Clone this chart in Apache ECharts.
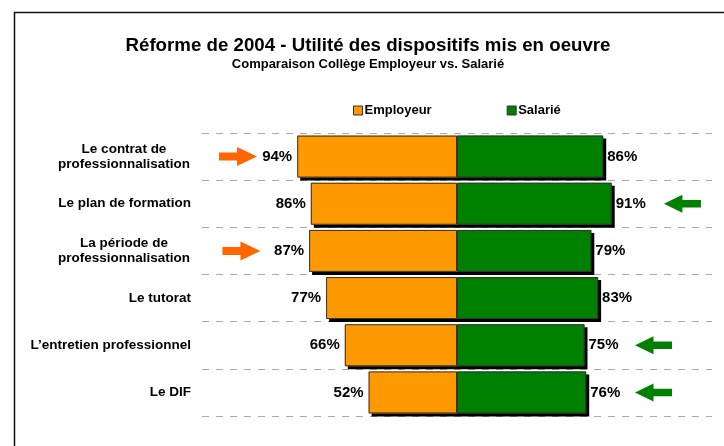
<!DOCTYPE html>
<html>
<head>
<meta charset="utf-8">
<script src="https://cdn.jsdelivr.net/npm/echarts@6/dist/echarts.min.js"></script>
<style>html,body{margin:0;padding:0;background:#fff;}#c{width:724px;height:446px;}</style>
</head>
<body>
<div id="c"></div>
<script>
var categories = ['Le contrat de\nprofessionnalisation', 'Le plan de formation', 'La période de\nprofessionnalisation', 'Le tutorat', 'L\u2019entretien professionnel', 'Le DIF'];
var employeur = [94, 86, 87, 77, 66, 52];
var salarie = [86, 91, 79, 83, 75, 76];
// annotation arrows: [x value on the scale, category index]
var arrowsEmployeur = [[-128.8, 0], [-126.8, 2]];
var arrowsSalarie = [[132.6, 1], [115.6, 4], [115.6, 5]];

var FONT = '"Liberation Sans", Arial, sans-serif';
var chart = echarts.init(document.getElementById('c'), null, {renderer: 'canvas'});
var fillStyle = function (c) {
  return {color: c, borderWidth: 0, shadowColor: '#000', shadowBlur: 0, shadowOffsetX: 3, shadowOffsetY: 3};
};
var outlineStyle = {color: 'rgba(0,0,0,0)', borderColor: '#333', borderWidth: 1};
var valLabel = function (pos) {
  return {show: true, position: pos, distance: pos === 'left' ? 5 : 4, fontFamily: FONT, fontSize: 15, fontWeight: 'bold', color: '#000',
    formatter: function (p) { return Math.abs(p.value) + '%'; }};
};
var negEmp = employeur.map(function (v) { return -v; });
var rightArrow = 'path://M0,5.5 L18,5.5 L18,0 L38,9.5 L18,19 L18,13.5 L0,13.5 Z';
var leftArrow = 'path://M38,5.5 L19,5.5 L19,0 L0,9.5 L19,19 L19,13.5 L38,13.5 Z';

chart.setOption({
  animation: false,
  backgroundColor: '#fff',
  title: {
    text: 'Réforme de 2004 - Utilité des dispositifs mis en oeuvre',
    subtext: 'Comparaison Collège Employeur vs. Salarié',
    left: 368, top: 36, textAlign: 'center', itemGap: 3, padding: 0,
    textStyle: {fontFamily: FONT, fontSize: 18.7, fontWeight: 'bold', color: '#000'},
    subtextStyle: {fontFamily: FONT, fontSize: 13, fontWeight: 'bold', color: '#000'}
  },
  legend: {
    data: ['Employeur', 'Salarié'],
    left: 353, top: 104, padding: 0, itemWidth: 9, itemHeight: 9, itemGap: 75,
    icon: 'rect',
    itemStyle: {borderColor: '#333', borderWidth: 1},
    textStyle: {fontFamily: FONT, fontSize: 13, fontWeight: 'bold', color: '#000', padding: [0, 0, 0, -3]}
  },
  graphic: [{
    type: 'rect', z: -1, silent: true,
    shape: {x: 14.5, y: 12.5, width: 900, height: 900},
    style: {fill: null, stroke: '#111', lineWidth: 1.5}
  }],
  grid: {left: 202, right: 12, top: 133, bottom: 30, containLabel: false},
  xAxis: {type: 'value', min: -150, max: 150, show: false},
  yAxis: {
    type: 'category', inverse: true, data: categories,
    axisLine: {show: false}, axisTick: {show: false},
    splitLine: {show: true, lineStyle: {color: '#aaa', width: 1, type: [7, 7]}},
    axisLabel: {
      margin: 11, fontFamily: FONT, fontSize: 13.5, fontWeight: 'bold', color: '#000', lineHeight: 15,
      formatter: function (v) {
        if (v.indexOf('\n') < 0) return v;
        return v.split('\n').map(function (s) { return '{m|' + s + '}'; }).join('\n');
      },
      rich: {m: {width: 134, align: 'center', fontFamily: FONT, fontSize: 13.5, fontWeight: 'bold', color: '#000', lineHeight: 15}}
    }
  },
  series: [
    {name: 'Employeur', type: 'bar', barCategoryGap: '11%', barGap: '-100%',
      data: negEmp, itemStyle: fillStyle('#FF9900'), label: valLabel('left')},
    {name: 'Salarié', type: 'bar', barCategoryGap: '11%', barGap: '-100%',
      data: salarie, itemStyle: fillStyle('#008000'), label: valLabel('right')},
    {name: 'outlineE', type: 'bar', barCategoryGap: '11%', barGap: '-100%', silent: true, z: 3,
      data: negEmp, itemStyle: outlineStyle},
    {name: 'outlineS', type: 'bar', barCategoryGap: '11%', barGap: '-100%', silent: true, z: 3,
      data: salarie, itemStyle: outlineStyle},
    {name: 'arrowE', type: 'scatter', data: arrowsEmployeur, symbol: rightArrow, symbolSize: [38, 19],
      itemStyle: {color: '#FF6600', opacity: 1}, z: 5, silent: true},
    {name: 'arrowS', type: 'scatter', data: arrowsSalarie, symbol: leftArrow, symbolSize: [37, 18],
      itemStyle: {color: '#008000', opacity: 1}, z: 5, silent: true}
  ]
});
</script>
</body>
</html>
